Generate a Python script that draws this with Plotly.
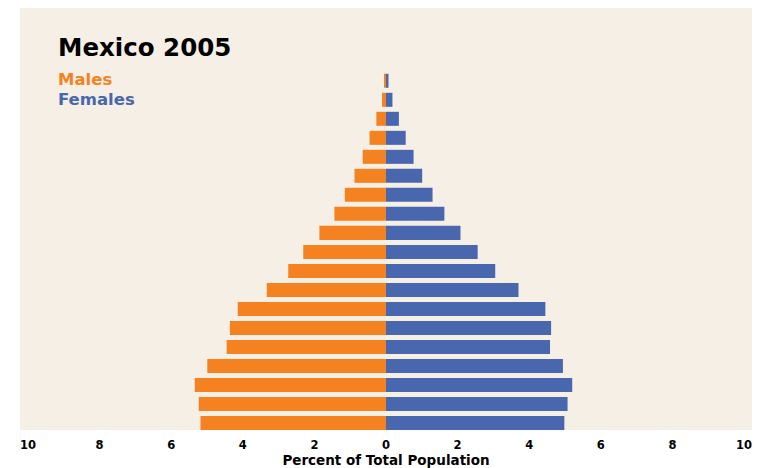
import plotly.graph_objects as go

ages = ["0-4", "5-9", "10-14", "15-19", "20-24", "25-29", "30-34", "35-39", "40-44",
        "45-49", "50-54", "55-59", "60-64", "65-69", "70-74", "75-79", "80-84", "85-89", "90+"]
males = [5.18, 5.23, 5.34, 4.99, 4.45, 4.36, 4.14, 3.33, 2.73, 2.31,
         1.86, 1.44, 1.15, 0.88, 0.65, 0.46, 0.27, 0.11, 0.05]
females = [4.98, 5.07, 5.20, 4.94, 4.58, 4.61, 4.45, 3.70, 3.05, 2.56,
           2.08, 1.63, 1.30, 1.01, 0.77, 0.55, 0.36, 0.18, 0.07]
tick_vals = [-10, -8, -6, -4, -2, 0, 2, 4, 6, 8, 10]
tick_text = ["10", "8", "6", "4", "2", "0", "2", "4", "6", "8", "10"]

ORANGE = "#F58220"
BLUE = "#4867AE"
BG = "#F5EFE6"
FONT = "DejaVu Sans"

fig = go.Figure()
fig.add_trace(go.Bar(y=ages, x=[-v for v in males], orientation="h", name="Males",
                     marker=dict(color=ORANGE, line=dict(width=0)),
                     customdata=males, hovertemplate="%{y}: %{customdata}%<extra>Males</extra>"))
fig.add_trace(go.Bar(y=ages, x=females, orientation="h", name="Females",
                     marker=dict(color=BLUE, line=dict(width=0)),
                     hovertemplate="%{y}: %{x}%<extra>Females</extra>"))

fig.update_layout(
    width=763, height=468,
    margin=dict(l=20, r=11, t=8, b=38),
    paper_bgcolor="white", plot_bgcolor=BG,
    barmode="relative", bargap=0.263,
    showlegend=False,
    font=dict(family=FONT, color="black"),
    xaxis=dict(range=[-10.22, 10.22], tickvals=tick_vals, ticktext=tick_text,
               showgrid=False, zeroline=False, showline=False, ticks="",
               ticklabelstandoff=6, automargin=False,
               tickfont=dict(family=FONT, size=11.5, color="black", weight="bold"),
               title=dict(text="Percent of Total Population", standoff=6,
                          font=dict(family=FONT, size=13.5, color="black", weight="bold"))),
    yaxis=dict(range=[-0.37, 21.83], showticklabels=False, showgrid=False,
               zeroline=False, showline=False, ticks="", automargin=False),
    annotations=[
        dict(text="Mexico 2005", xref="paper", yref="paper", x=0.049, y=0.906,
             xanchor="left", yanchor="middle", showarrow=False,
             font=dict(family=FONT, size=24.5, color="black", weight="bold")),
        dict(text="Males", xref="paper", yref="paper", x=0.049, y=0.8306,
             xanchor="left", yanchor="middle", showarrow=False,
             font=dict(family=FONT, size=16.5, color=ORANGE, weight="bold")),
        dict(text="Females", xref="paper", yref="paper", x=0.049, y=0.7832,
             xanchor="left", yanchor="middle", showarrow=False,
             font=dict(family=FONT, size=16.5, color=BLUE, weight="bold")),
    ],
)

fig.write_html("out.html")
